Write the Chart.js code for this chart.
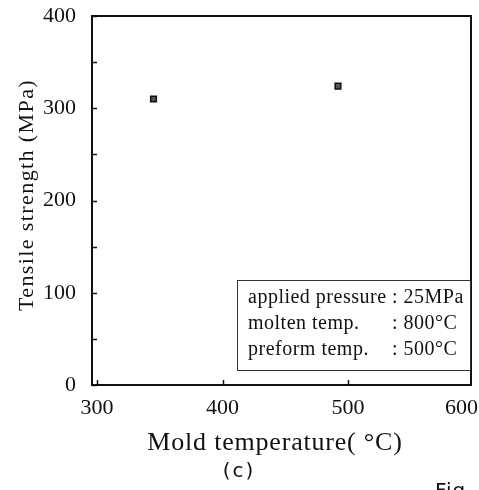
<!DOCTYPE html>
<html>
<head>
<meta charset="utf-8">
<script src="https://cdn.jsdelivr.net/npm/chart.js@4"></script>
<style>
  html, body { margin: 0; padding: 0; background: #fff; }
  #wrap { width: 479px; height: 490px; position: relative; }
</style>
</head>
<body>
<div id="wrap"><canvas id="chart"></canvas></div>
<script>
// data
const moldTemps = [345, 492];        // Mold temperature (°C)
const strengths = [310, 324];        // Tensile strength (MPa)
const xTicks = [300, 400, 500, 600];
const yTicks = [0, 100, 200, 300, 400];
const yMinorTicks = [50, 150, 250, 350];
const noteLines = [
  ["applied pressure", ": 25MPa"],
  ["molten temp.", ": 800°C"],
  ["preform temp.", ": 500°C"]
];

const SERIF = "'Liberation Serif', 'DejaVu Serif', serif";

// frame, inward ticks, x labels, titles and the condition box
const decorPlugin = {
  id: "decor",
  afterDraw(chart) {
    const ctx = chart.ctx;
    const a = chart.chartArea;
    const xs = chart.scales.x;
    const ys = chart.scales.y;
    ctx.save();
    ctx.strokeStyle = "#111";
    ctx.lineWidth = 2;
    ctx.strokeRect(a.left, a.top, a.right - a.left, a.bottom - a.top);

    ctx.lineWidth = 1.5;
    ctx.beginPath();
    yTicks.concat(yMinorTicks).forEach((v) => {
      const py = Math.round(ys.getPixelForValue(v)) + 0.5;
      ctx.moveTo(a.left, py);
      ctx.lineTo(a.left + 5, py);
    });
    xTicks.forEach((v) => {
      const px = Math.round(xs.getPixelForValue(v)) + 0.5;
      if (px <= a.left + 2 || px >= a.right - 2) return;
      ctx.moveTo(px, a.bottom);
      ctx.lineTo(px, a.bottom - 5);
    });
    ctx.stroke();

    // x tick labels, last one kept inside the canvas
    ctx.fillStyle = "#111";
    ctx.font = "22px " + SERIF;
    ctx.textAlign = "center";
    ctx.textBaseline = "middle";
    xTicks.forEach((v) => {
      const s = String(v);
      const w = ctx.measureText(s).width;
      const px = Math.min(xs.getPixelForValue(v), chart.width - w / 2 - 1);
      ctx.fillText(s, px, 408);
    });

    // axis titles
    ctx.textBaseline = "alphabetic";
    ctx.font = "26px " + SERIF;
    ctx.letterSpacing = "0.8px";
    ctx.fillText("Mold temperature( °C)", 275, 450);
    ctx.save();
    ctx.translate(33, 195);
    ctx.rotate(-Math.PI / 2);
    ctx.font = "22px " + SERIF;
    ctx.letterSpacing = "1.4px";
    ctx.fillText("Tensile strength (MPa)", 0, 0);
    ctx.restore();

    // condition box
    const bx = 237, by = 280, bw = a.right - bx, bh = 91;
    ctx.fillStyle = "#fff";
    ctx.fillRect(bx, by, bw, bh);
    ctx.lineWidth = 1;
    ctx.strokeStyle = "#333";
    ctx.strokeRect(bx + 0.5, by + 0.5, bw - 1, bh - 1);
    ctx.fillStyle = "#111";
    ctx.textAlign = "left";
    ctx.textBaseline = "middle";
    ctx.font = "20px " + SERIF;
    ctx.letterSpacing = "0.5px";
    noteLines.forEach((ln, i) => {
      const ty = by + 18 + i * 26;
      ctx.fillText(ln[0], bx + 11, ty);
      ctx.fillText(ln[1], bx + 155, ty);
    });

    // caption bits
    ctx.font = "20px 'DejaVu Sans', sans-serif";
    ctx.letterSpacing = "2px";
    ctx.textAlign = "center";
    ctx.fillText("(c)", 239, 472);
    ctx.textAlign = "left";
    ctx.textBaseline = "alphabetic";
    ctx.letterSpacing = "1px";
    ctx.fillText("Fig", 435, 497);
    ctx.restore();
  }
};

new Chart(document.getElementById("chart"), {
  type: "scatter",
  data: {
    datasets: [{
      data: moldTemps.map((t, i) => ({ x: t, y: strengths[i] })),
      pointStyle: "rect",
      pointRadius: 4,
      pointBackgroundColor: "#555",
      pointBorderColor: "#111",
      pointBorderWidth: 1.5
    }]
  },
  options: {
    responsive: true,
    maintainAspectRatio: false,
    animation: false,
    layout: { padding: { left: 0, right: 8, top: 16, bottom: 0 } },
    plugins: { legend: { display: false }, tooltip: { enabled: false } },
    scales: {
      x: {
        type: "linear",
        min: 296,
        max: 598,
        afterFit: (s) => { s.height = 105; s.paddingLeft = 0; s.paddingRight = 0; },
        grid: { display: false },
        border: { display: false },
        ticks: { display: false }
      },
      y: {
        min: 0,
        max: 400,
        afterBuildTicks: (s) => { s.ticks = yTicks.map((v) => ({ value: v })); },
        afterFit: (s) => { s.width = 92; s.paddingTop = 0; s.paddingBottom = 0; },
        grid: { display: false },
        border: { display: false },
        ticks: {
          color: "#111",
          padding: 8,
          font: { family: SERIF, size: 22 }
        }
      }
    }
  },
  plugins: [decorPlugin]
});
</script>
</body>
</html>
